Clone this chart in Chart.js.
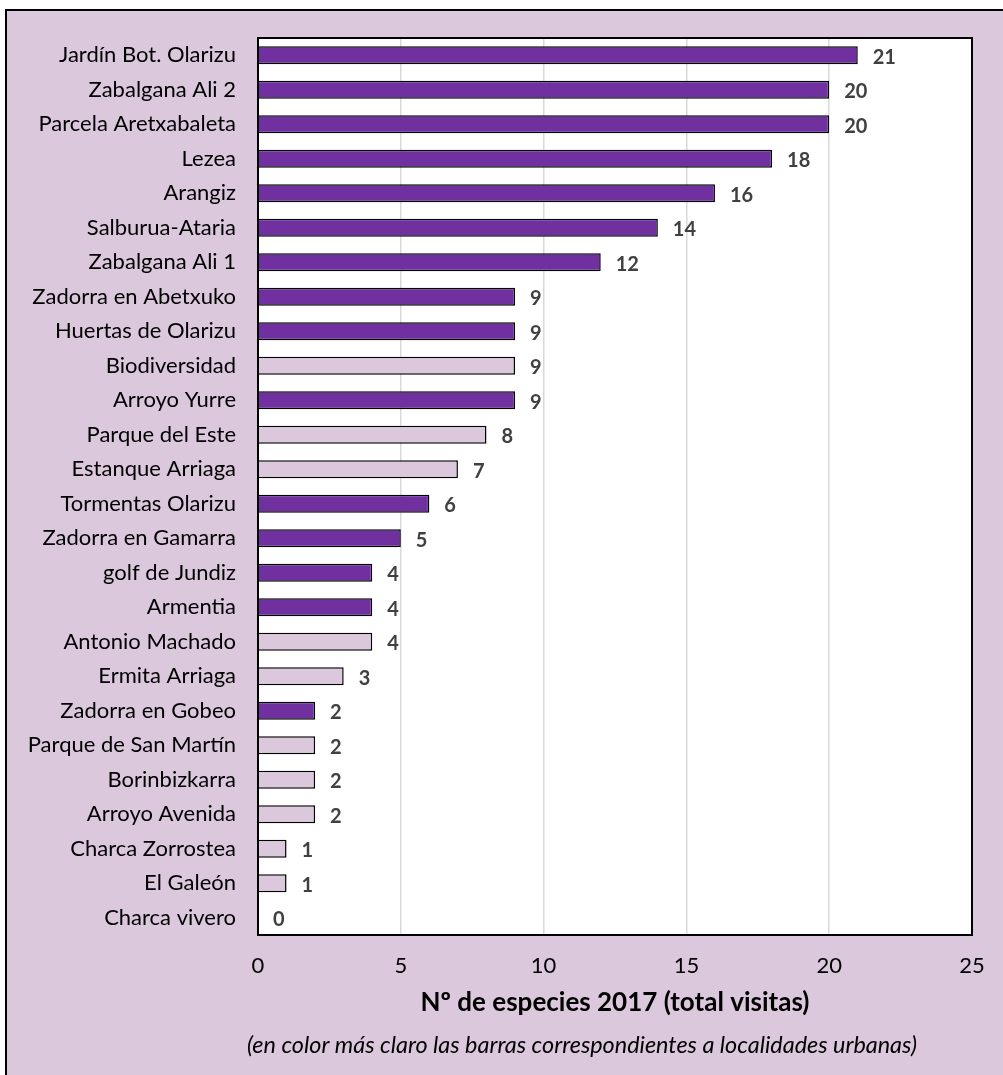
<!DOCTYPE html>
<html>
<head>
<meta charset="utf-8">
<script src="https://cdn.jsdelivr.net/npm/chart.js@4.4.1/dist/chart.umd.min.js"></script>
<style>
  html, body { margin: 0; padding: 0; background: #ffffff; }
  #wrap { position: relative; width: 1003px; height: 1075px; overflow: hidden; }
  #bg { position: absolute; left: 5px; top: 9px; width: 1100px; height: 1200px;
        background: #DCC8DC; border: 2px solid #000; }
  #c { position: absolute; left: 0; top: 0; }
</style>
</head>
<body>
<div id="wrap">
  <div id="bg"></div>
  <canvas id="c" width="1003" height="1075"></canvas>
</div>
<script>
const categories = [
  "Jardín Bot. Olarizu", "Zabalgana Ali 2", "Parcela Aretxabaleta", "Lezea", "Arangiz",
  "Salburua-Ataria", "Zabalgana Ali 1", "Zadorra en Abetxuko", "Huertas de Olarizu",
  "Biodiversidad", "Arroyo Yurre", "Parque del Este", "Estanque Arriaga",
  "Tormentas Olarizu", "Zadorra en Gamarra", "golf de Jundiz", "Armentia",
  "Antonio Machado", "Ermita Arriaga", "Zadorra en Gobeo", "Parque de San Martín",
  "Borinbizkarra", "Arroyo Avenida", "Charca Zorrostea", "El Galeón", "Charca vivero"
];
const speciesCount = [21, 20, 20, 18, 16, 14, 12, 9, 9, 9, 9, 8, 7, 6, 5, 4, 4, 4, 3, 2, 2, 2, 2, 1, 1, 0];
const isUrban = [false, false, false, false, false, false, false, false, false,
  true, false, true, true, false, false, false, false, true, true, false, true,
  true, true, true, true, true];
const xTicks = [0, 5, 10, 15, 20, 25];
const axisTitle = "Nº de especies 2017 (total visitas)";
const noteText = "(en color más claro las barras correspondientes a localidades urbanas)";

const DARK = "#7030A0";
const LIGHT = "#DCC8DC";
const FONT = "Lato, 'Open Sans', sans-serif";

const framePlugin = {
  id: "frame",
  beforeDraw(chart) {
    const {ctx, chartArea: a} = chart;
    ctx.save();
    ctx.fillStyle = "#fff";
    ctx.fillRect(a.left, a.top, a.right - a.left, a.bottom - a.top);
    ctx.restore();
  },
  afterDraw(chart) {
    const {ctx, chartArea: a} = chart;
    ctx.save();
    ctx.strokeStyle = "#000";
    ctx.lineWidth = 2;
    ctx.strokeRect(a.left, a.top, a.right - a.left, a.bottom - a.top);
    // footnote (italic), placed below the axis title
    ctx.font = "italic 23.4px " + FONT;
    ctx.fillStyle = "#000";
    ctx.textAlign = "center";
    ctx.textBaseline = "middle";
    ctx.fillText(noteText, 582, 1045);
    ctx.restore();
  }
};

const valueLabels = {
  id: "valueLabels",
  afterDatasetsDraw(chart) {
    const {ctx} = chart;
    const meta = chart.getDatasetMeta(0);
    const xs = chart.scales.x;
    ctx.save();
    ctx.font = "bold 20px " + FONT;
    ctx.fillStyle = "#404040";
    ctx.textAlign = "left";
    ctx.textBaseline = "middle";
    meta.data.forEach((bar, i) => {
      const v = speciesCount[i];
      ctx.fillText(String(v), xs.getPixelForValue(v) + 15, bar.y + 2);
    });
    ctx.restore();
  }
};

new Chart(document.getElementById("c"), {
  type: "bar",
  data: {
    labels: categories,
    datasets: [{
      data: speciesCount,
      backgroundColor: isUrban.map(u => u ? LIGHT : DARK),
      borderColor: "#000",
      borderWidth: 1.5,
      barPercentage: 0.52,
      categoryPercentage: 1.0
    }]
  },
  options: {
    indexAxis: "y",
    responsive: false,
    animation: false,
    devicePixelRatio: 1,
    layout: { padding: { top: 38, right: 31, left: 0, bottom: 54 } },
    plugins: {
      legend: { display: false },
      tooltip: { enabled: false }
    },
    scales: {
      x: {
        min: 0, max: 25,
        afterBuildTicks(scale) { scale.ticks = xTicks.map(v => ({ value: v })); },
        afterFit(scale) { scale.height = 86; },
        grid: { color: "#D9D9D9", lineWidth: 1.5, drawTicks: false },
        border: { display: false },
        ticks: { color: "#000", padding: 18, font: { family: FONT, size: 22 }, maxRotation: 0 },
        title: {
          display: true, text: axisTitle, color: "#000",
          font: { family: FONT, size: 26, weight: "bold", lineHeight: 1.2 },
          padding: { top: 0, bottom: 3 }
        }
      },
      y: {
        afterFit(scale) { scale.width = 258; },
        grid: { display: false, drawTicks: false },
        border: { display: false },
        ticks: { color: "#000", padding: 22, autoSkip: false, font: { family: FONT, size: 22 } }
      }
    }
  },
  plugins: [framePlugin, valueLabels]
});
</script>
</body>
</html>
